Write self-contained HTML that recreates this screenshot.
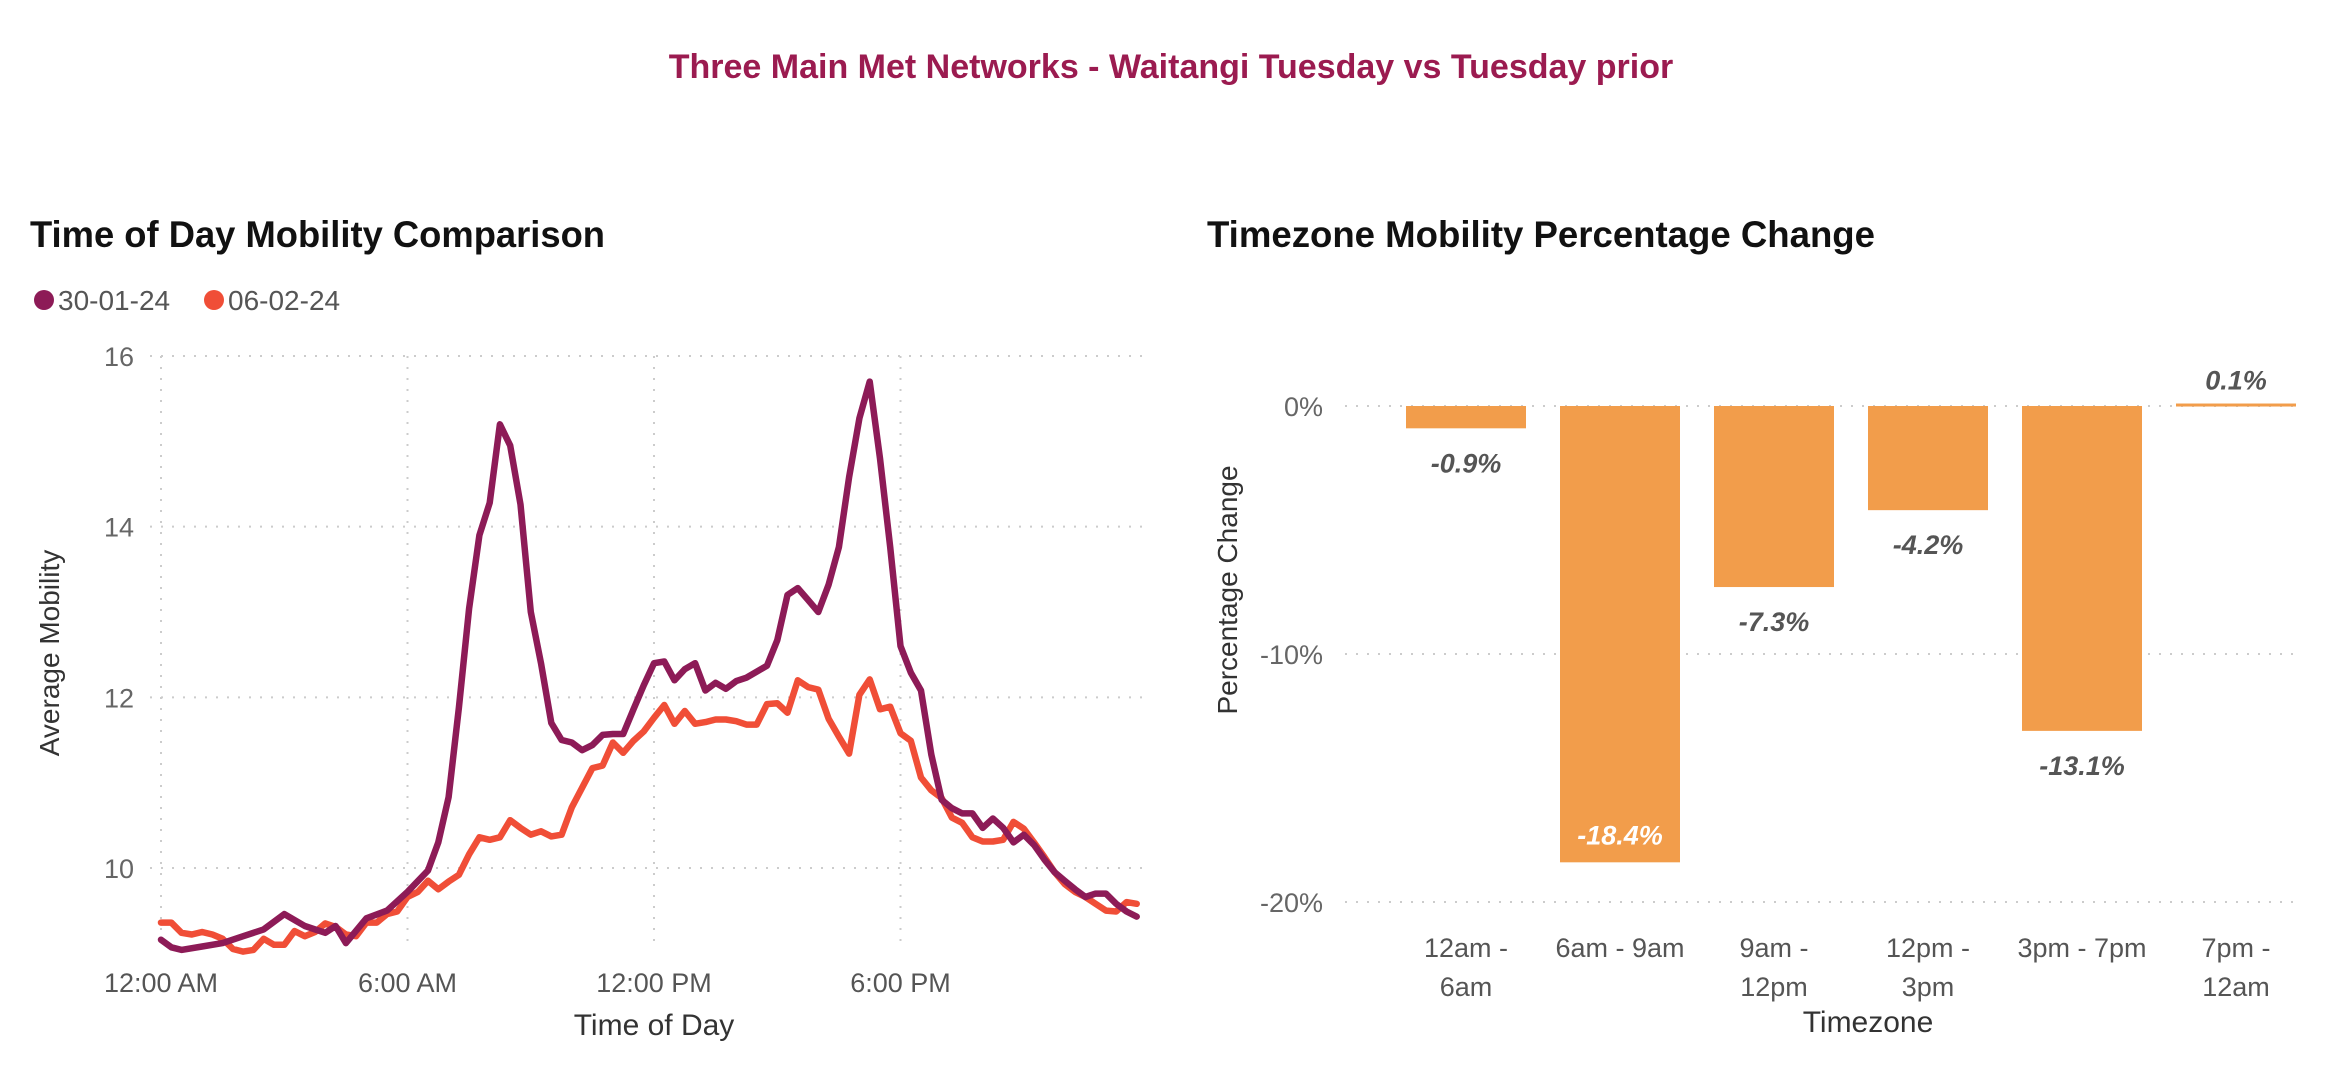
<!DOCTYPE html>
<html><head><meta charset="utf-8"><style>
html,body{margin:0;padding:0;background:#fff;}
body{width:2342px;height:1072px;overflow:hidden;position:relative;font-family:"Liberation Sans",sans-serif;}
</style></head><body>
<svg id="svg" width="2342" height="1072" viewBox="0 0 2342 1072" xmlns="http://www.w3.org/2000/svg">
<text x="1171" y="78" text-anchor="middle" font-size="34" font-weight="bold" fill="#9b1b50">Three Main Met Networks - Waitangi Tuesday vs Tuesday prior</text>
<text x="30" y="247" font-size="37" font-weight="bold" fill="#111" textLength="575" lengthAdjust="spacingAndGlyphs">Time of Day Mobility Comparison</text>
<g>
<circle cx="44" cy="300" r="10" fill="#8d1b57"/>
<text x="58" y="310" font-size="28" fill="#555">30-01-24</text>
<circle cx="214" cy="300" r="10" fill="#f04e37"/>
<text x="228" y="310" font-size="28" fill="#555">06-02-24</text>
</g>
<g id="line"></g>
<text transform="translate(59,653) rotate(-90)" text-anchor="middle" font-size="28" fill="#333">Average Mobility</text>
<text x="654" y="1035" text-anchor="middle" font-size="30" fill="#333">Time of Day</text>
<text x="1207" y="247" font-size="37" font-weight="bold" fill="#111" textLength="668" lengthAdjust="spacingAndGlyphs">Timezone Mobility Percentage Change</text>
<g id="bar"></g>
<text transform="translate(1237,590) rotate(-90)" text-anchor="middle" font-size="28" fill="#333">Percentage Change</text>
<text x="1868" y="1032" text-anchor="middle" font-size="30" fill="#333">Timezone</text>
</svg>
<script>
const NS="http://www.w3.org/2000/svg";
const yTicks=[10,12,14,16];
const xTickHours=[0,6,12,18];
const xTickLabels=["12:00 AM","6:00 AM","12:00 PM","6:00 PM"];
const hoursA=[0,0.25,0.5,1,1.5,2,2.5,3,3.5,4,4.25,4.5,5,5.5,6,6.5,6.75,7,7.25,7.5,7.75,8,8.25,8.5,8.75,9,9.25,9.5,9.75,10,10.25,10.5,10.75,11,11.25,11.5,11.75,12,12.25,12.5,12.75,13,13.25,13.5,13.75,14,14.25,14.5,14.75,15,15.25,15.5,15.75,16,16.25,16.5,16.75,17,17.25,17.5,17.75,18,18.25,18.5,18.75,19,19.25,19.5,19.75,20,20.25,20.5,20.75,21,21.25,21.5,21.75,22,22.25,22.5,22.75,23,23.25,23.5,23.75];
const series2024Jan30=[9.16,9.07,9.04,9.08,9.12,9.2,9.28,9.46,9.32,9.24,9.32,9.12,9.41,9.5,9.72,9.97,10.3,10.83,11.88,13.04,13.9,14.28,15.2,14.95,14.26,13.0,12.4,11.7,11.5,11.47,11.38,11.44,11.56,11.57,11.57,11.86,12.14,12.4,12.42,12.2,12.33,12.4,12.08,12.17,12.1,12.19,12.23,12.3,12.37,12.67,13.2,13.28,13.14,13.0,13.32,13.76,14.58,15.27,15.7,14.8,13.76,12.6,12.29,12.08,11.33,10.8,10.7,10.64,10.64,10.47,10.58,10.47,10.3,10.39,10.27,10.1,9.95,9.85,9.75,9.66,9.7,9.7,9.58,9.49,9.43];
const hoursB=[0,0.25,0.5,0.75,1,1.25,1.5,1.75,2,2.25,2.5,2.75,3,3.25,3.5,3.75,4,4.25,4.5,4.75,5,5.25,5.5,5.75,6,6.25,6.5,6.75,7,7.25,7.5,7.75,8,8.25,8.5,8.75,9,9.25,9.5,9.75,10,10.25,10.5,10.75,11,11.25,11.5,11.75,12,12.25,12.5,12.75,13,13.25,13.5,13.75,14,14.25,14.5,14.75,15,15.25,15.5,15.75,16,16.25,16.5,16.75,17,17.25,17.5,17.75,18,18.25,18.5,18.75,19,19.25,19.5,19.75,20,20.25,20.5,20.75,21,21.25,21.5,21.75,22,22.25,22.5,22.75,23,23.25,23.5,23.75];
const series2024Feb06=[9.36,9.36,9.24,9.22,9.25,9.22,9.17,9.05,9.02,9.04,9.17,9.1,9.1,9.26,9.2,9.25,9.35,9.31,9.22,9.2,9.36,9.36,9.46,9.49,9.66,9.72,9.85,9.75,9.84,9.92,10.16,10.36,10.33,10.36,10.56,10.47,10.39,10.43,10.37,10.39,10.71,10.94,11.17,11.2,11.47,11.35,11.49,11.6,11.76,11.91,11.69,11.84,11.69,11.71,11.74,11.74,11.72,11.68,11.68,11.92,11.93,11.82,12.2,12.12,12.09,11.75,11.54,11.34,12.03,12.21,11.86,11.89,11.58,11.49,11.06,10.91,10.82,10.59,10.53,10.36,10.31,10.31,10.33,10.54,10.46,10.3,10.13,9.95,9.81,9.72,9.66,9.58,9.5,9.49,9.6,9.58];
const categories=["12am - 6am","6am - 9am","9am - 12pm","12pm - 3pm","3pm - 7pm","7pm - 12am"];
const pctValues=[-0.9,-18.4,-7.3,-4.2,-13.1,0.1];
const pctLabels=["-0.9%","-18.4%","-7.3%","-4.2%","-13.1%","0.1%"];
const pctTicks=[0,-10,-20];
const pctTickLabels=["0%","-10%","-20%"];

function mk(tag,attrs,parent,text){const e=document.createElementNS(NS,tag);for(const k in attrs)e.setAttribute(k,attrs[k]);if(text!==undefined)e.textContent=text;parent.appendChild(e);return e;}
const L=document.getElementById('line');
const xS=h=>161+h*(246.5/6);
const yS=v=>356+(16-v)*85.33;
yTicks.forEach(t=>{
  const g=mk('line',{x1:150,x2:1150,y1:yS(t),y2:yS(t),stroke:'#ccc','stroke-width':2,'stroke-dasharray':'2 9'},L);
  
  
  const tx=mk('text',{x:134,y:yS(t)+10,'text-anchor':'end','font-size':27,fill:'#666'},L,String(t));
  
  
});
xTickHours.forEach((h,i)=>{
  const g=mk('line',{x1:xS(h),x2:xS(h),y1:356,y2:950,stroke:'#ccc','stroke-width':2,'stroke-dasharray':'2 9'},L);
  
  
  const tx=mk('text',{x:xS(h),y:992,'text-anchor':'middle','font-size':27,fill:'#555'},L,xTickLabels[i]);
  
  
});
function drawLine(hs,vs,color,name){
  const d=hs.map((h,i)=>(i?'L':'M')+xS(h).toFixed(1)+','+yS(vs[i]).toFixed(1)).join('');
  const p=mk('path',{d:d,fill:'none',stroke:color,'stroke-width':6.5,'stroke-linejoin':'round','stroke-linecap':'round'},L);
  
  
}
drawLine(hoursB,series2024Feb06,'#f04e37','line-06-02-24');
drawLine(hoursA,series2024Jan30,'#8d1b57','line-30-01-24');
const B=document.getElementById('bar');
const pY=v=>406-v*24.8;
const cx=i=>1466+i*154;
pctTicks.forEach((t,i)=>{
  const g=mk('line',{x1:1345,x2:2300,y1:pY(t),y2:pY(t),stroke:'#ccc','stroke-width':2,'stroke-dasharray':'2 9'},B);
  
  
  const tx=mk('text',{x:1323,y:pY(t)+10,'text-anchor':'end','font-size':27,fill:'#666'},B,pctTickLabels[i]);
  
  
});
pctValues.forEach((v,i)=>{
  const y0=pY(0),y1=pY(v);
  const r=mk('rect',{x:cx(i)-60,y:Math.min(y0,y1),width:120,height:Math.max(Math.abs(y1-y0),3),fill:'#f29d4b'},B);
  
  
  let ly,col='#555';
  if(v>0){ly=y1-14;}else if(v<-15){ly=y1-18;col='#fff';}else{ly=y1+44;}
  const t=mk('text',{x:cx(i),y:ly,'text-anchor':'middle','font-size':27,'font-weight':'bold','font-style':'italic',fill:col},B,pctLabels[i]);
  
  
  const parts=categories[i].split(' - ');
  const oneLine=(i===1||i===4);
  if(oneLine){
    const c=mk('text',{x:cx(i),y:957,'text-anchor':'middle','font-size':27,fill:'#555'},B,categories[i]);
    
    
  }else{
    const c1=mk('text',{x:cx(i),y:957,'text-anchor':'middle','font-size':27,fill:'#555'},B,parts[0]+' -');
    
    
    const c2=mk('text',{x:cx(i),y:996,'text-anchor':'middle','font-size':27,fill:'#555'},B,parts[1]);
    
    
  }
});
</script>
</body></html>
